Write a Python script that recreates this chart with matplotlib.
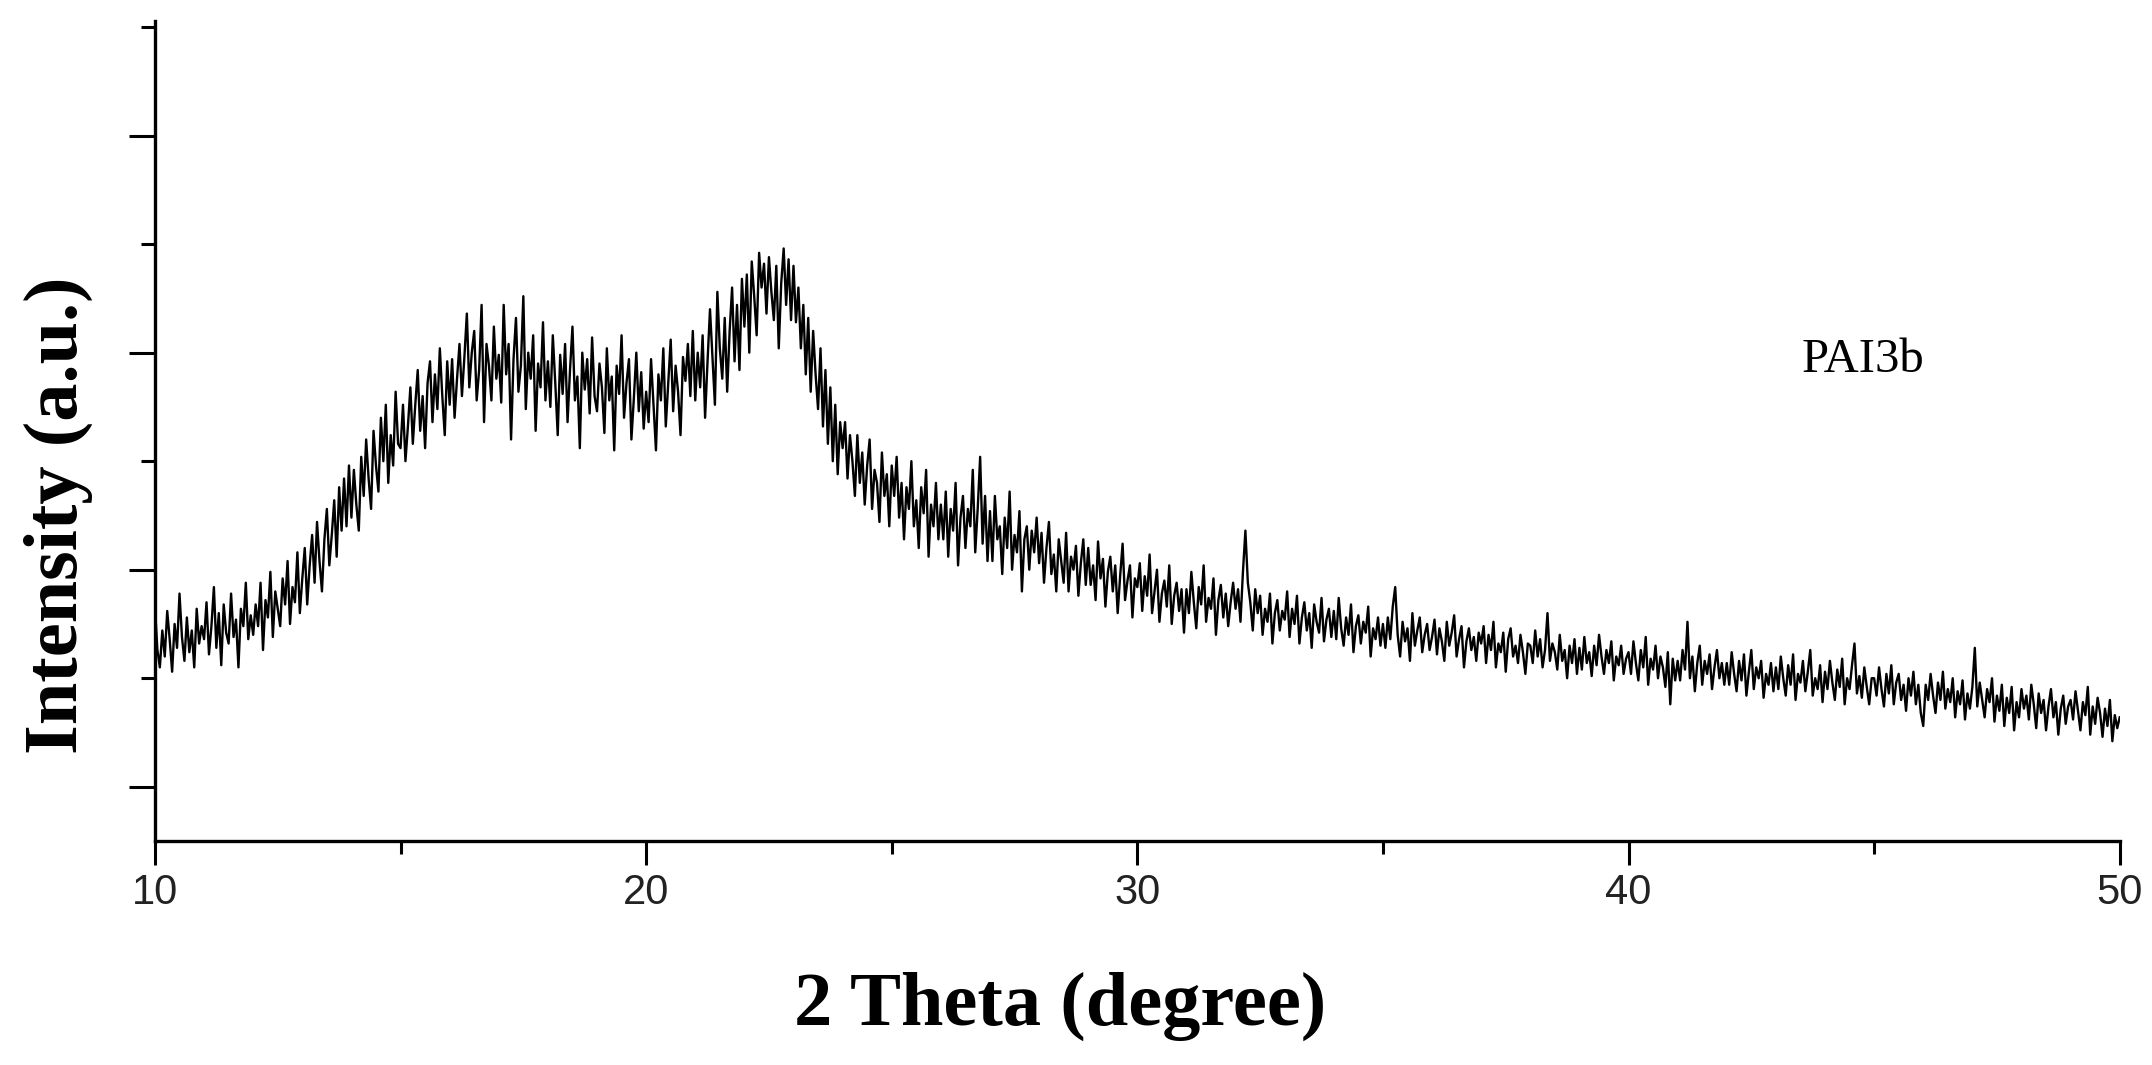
import matplotlib
matplotlib.use("Agg")
import matplotlib.pyplot as plt
import numpy as np

# 2 theta from 10 to 50 deg, step 0.05 (one row per degree)
two_theta_start = 10.0
two_theta_step = 0.05

intensity = [
    183, 163, 155, 172, 160, 181, 168, 153, 175, 164, 189, 169, 158, 178, 162, 172, 155, 182, 166, 174,  # 10
    168, 185, 161, 174, 192, 164, 180, 156, 184, 171, 166, 189, 169, 177, 155, 182, 174, 194, 168, 179,  # 11
    170, 184, 174, 194, 163, 186, 178, 199, 169, 190, 182, 174, 196, 184, 204, 175, 192, 185, 208, 180,  # 12
    196, 210, 184, 202, 216, 194, 222, 204, 190, 214, 228, 202, 216, 232, 206, 238, 218, 242, 220, 248,  # 13
    224, 246, 230, 218, 252, 234, 260, 242, 228, 264, 248, 236, 270, 250, 276, 240, 262, 248, 282, 258,  # 14
    256, 276, 250, 266, 284, 258, 276, 292, 264, 280, 256, 286, 296, 268, 290, 274, 302, 280, 262, 296,  # 15
    276, 297, 270, 288, 304, 280, 298, 318, 284, 300, 310, 278, 292, 322, 268, 304, 294, 278, 312, 288,  # 16
    299, 277, 322, 290, 304, 260, 297, 316, 282, 294, 326, 274, 300, 288, 308, 264, 295, 284, 314, 278,  # 17
    296, 275, 308, 286, 262, 299, 281, 304, 268, 292, 312, 278, 289, 256, 300, 283, 297, 272, 307, 280,  # 18
    273, 295, 284, 263, 302, 278, 289, 255, 294, 281, 308, 270, 286, 297, 260, 279, 300, 273, 291, 265,  # 19
    282, 268, 297, 276, 255, 290, 278, 302, 266, 286, 306, 273, 294, 282, 262, 298, 287, 304, 280, 310,  # 20
    278, 300, 284, 308, 270, 296, 320, 298, 276, 328, 302, 288, 316, 282, 310, 330, 296, 322, 292, 334,  # 21
    312, 336, 300, 342, 326, 308, 346, 330, 341, 318, 344, 328, 315, 340, 302, 332, 348, 322, 343, 315,  # 22
    340, 314, 330, 302, 322, 290, 316, 282, 310, 290, 274, 302, 266, 292, 258, 284, 250, 276, 244, 268,  # 23
    256, 268, 242, 262, 250, 234, 262, 240, 254, 230, 248, 260, 228, 246, 240, 222, 254, 234, 244, 220,  # 24
    248, 234, 252, 224, 240, 214, 238, 228, 250, 220, 232, 210, 238, 226, 246, 206, 230, 220, 240, 214,  # 25
    230, 214, 236, 206, 228, 218, 240, 202, 224, 234, 210, 228, 220, 246, 208, 228, 252, 212, 234, 204,  # 26
    227, 204, 234, 214, 220, 198, 224, 210, 236, 200, 216, 208, 227, 190, 214, 220, 200, 218, 208, 224,  # 27
    203, 217, 194, 210, 222, 198, 207, 190, 214, 204, 194, 217, 190, 206, 200, 211, 188, 203, 214, 193,  # 28
    210, 193, 202, 186, 213, 196, 205, 183, 199, 206, 190, 202, 180, 197, 212, 186, 195, 202, 178, 196,  # 29
    192, 203, 181, 197, 188, 207, 180, 190, 200, 176, 189, 195, 183, 202, 175, 188, 194, 181, 191, 171,  # 30
    191, 180, 199, 185, 173, 192, 184, 202, 176, 187, 182, 196, 170, 186, 193, 178, 189, 174, 185, 194,  # 31
    182, 191, 176, 199, 218, 194, 185, 172, 191, 180, 188, 170, 182, 176, 189, 166, 180, 186, 172, 181,  # 32
    177, 190, 169, 182, 175, 188, 166, 178, 185, 172, 180, 164, 184, 176, 171, 187, 167, 177, 182, 169,  # 33
    181, 168, 187, 173, 165, 178, 170, 184, 162, 174, 179, 166, 176, 171, 183, 160, 173, 168, 178, 165,  # 34
    175, 164, 178, 168, 183, 192, 170, 160, 176, 167, 173, 158, 180, 165, 172, 178, 162, 170, 175, 163,  # 35
    169, 177, 161, 173, 167, 158, 176, 165, 171, 179, 160, 168, 174, 155, 167, 173, 163, 169, 158, 171,  # 36
    166, 174, 157, 170, 163, 176, 155, 166, 162, 171, 153, 168, 173, 160, 165, 157, 170, 162, 152, 166,  # 37
    165, 157, 172, 160, 168, 155, 163, 180, 158, 166, 162, 154, 170, 158, 163, 150, 165, 157, 168, 152,  # 38
    164, 154, 169, 157, 162, 151, 165, 156, 170, 160, 152, 163, 157, 167, 149, 160, 156, 165, 152, 159,  # 39
    162, 152, 167, 157, 149, 163, 155, 169, 147, 159, 154, 165, 150, 160, 155, 146, 162, 138, 159, 149,  # 40
    158, 149, 163, 154, 176, 150, 160, 144, 157, 165, 147, 158, 152, 161, 145, 155, 163, 150, 157, 147,  # 41
    157, 147, 162, 152, 144, 158, 149, 161, 142, 153, 163, 145, 155, 150, 158, 141, 152, 147, 157, 144,  # 42
    155, 145, 160, 150, 142, 156, 147, 161, 140, 152, 148, 158, 144, 153, 163, 142, 150, 145, 156, 139,  # 43
    153, 145, 158, 148, 140, 154, 146, 159, 138, 150, 145, 156, 166, 143, 151, 141, 155, 146, 138, 150,  # 44
    150, 142, 155, 145, 137, 152, 143, 156, 138, 148, 152, 140, 147, 135, 150, 142, 153, 138, 147, 134,  # 45
    128, 147, 140, 152, 142, 134, 148, 140, 153, 136, 145, 139, 150, 132, 144, 138, 149, 131, 143, 136,  # 46
    146, 164, 137, 148, 140, 132, 145, 139, 150, 130, 142, 135, 147, 128, 141, 134, 146, 126, 139, 132,  # 47
    145, 136, 142, 131, 147, 138, 127, 143, 134, 140, 126, 137, 145, 132, 139, 124, 136, 142, 129, 137,  # 48
    140, 131, 144, 135, 126, 139, 133, 146, 124, 137, 129, 141, 134, 123, 136, 128, 140, 121, 133, 127,  # 49
    132,
]

x_major = [10, 20, 30, 40, 50]
x_minor = [15, 25, 35, 45]
y_major = [100, 200, 300, 400]
y_minor = [150, 250, 350, 450]
sample_name = "PAI3b"

two_theta = two_theta_start + two_theta_step * np.arange(len(intensity))

fig = plt.figure(figsize=(21.52, 10.65), dpi=100)
ax = fig.add_axes([0.072, 0.2103, 0.913, 0.7704])

ax.plot(two_theta, intensity, color="black", lw=1.7)

ax.set_xlim(10, 50)
ax.set_ylim(75, 453)

ax.spines["top"].set_visible(False)
ax.spines["right"].set_visible(False)
ax.spines["left"].set_linewidth(2.4)
ax.spines["bottom"].set_linewidth(2.4)

ax.set_xticks(x_major)
ax.set_xticks(x_minor, minor=True)
ax.set_yticks(y_major)
ax.set_yticks(y_minor, minor=True)
ax.set_yticklabels([])

ax.tick_params(axis="x", which="major", direction="out", length=17, width=2.2,
               pad=6, labelsize=30, labelcolor="#222222")
ax.tick_params(axis="x", which="minor", direction="out", length=9, width=2.2)
ax.tick_params(axis="y", which="major", direction="out", length=19, width=2.2)
ax.tick_params(axis="y", which="minor", direction="out", length=10, width=2.2)
for lab in ax.get_xticklabels():
    lab.set_family("Liberation Sans")

fig.text(0.4926, 0.055, "2 Theta (degree)", ha="center", va="center",
         family="Liberation Serif", fontweight="bold", fontsize=55)
fig.text(0.027, 0.516, "Intensity (a.u.)", ha="center", va="center", rotation=90,
         family="Liberation Serif", fontweight="bold", fontsize=55)
ax.text(0.837, 0.662, sample_name, transform=fig.transFigure, ha="left", va="center",
        family="Liberation Serif", fontsize=35)

fig.savefig("out.png", dpi=100)
